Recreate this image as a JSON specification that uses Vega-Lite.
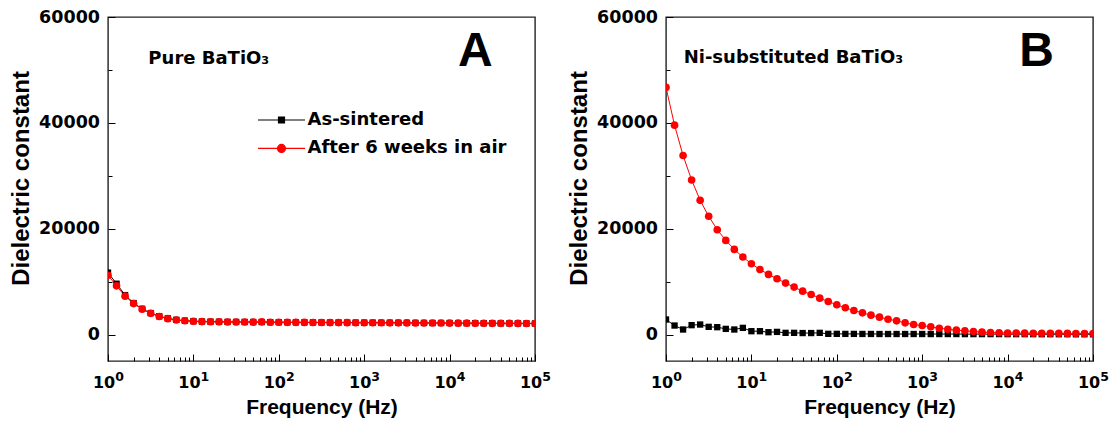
{
  "$schema": "https://vega.github.io/schema/vega-lite/v6.json",
  "padding": {"left": 8, "top": 7, "right": 5, "bottom": 2},
  "background": "white",
  "bounds": "flush",
  "spacing": 131,
  "config": {
    "font": "Liberation Sans",
    "view": {"stroke": "#222222", "strokeWidth": 1.4}
  },
  "datasets": {
    "A": [
      {"f": 1, "As-sintered": 11700, "After 6 weeks in air": 11200},
      {"f": 1.259, "As-sintered": 9600, "After 6 weeks in air": 9200},
      {"f": 1.585, "As-sintered": 7450, "After 6 weeks in air": 7250},
      {"f": 1.995, "As-sintered": 5950, "After 6 weeks in air": 5850},
      {"f": 2.512, "As-sintered": 4850, "After 6 weeks in air": 4800},
      {"f": 3.162, "As-sintered": 4050, "After 6 weeks in air": 4000},
      {"f": 3.981, "As-sintered": 3450, "After 6 weeks in air": 3400},
      {"f": 5.012, "As-sintered": 3050, "After 6 weeks in air": 3000},
      {"f": 6.31, "As-sintered": 2780, "After 6 weeks in air": 2750},
      {"f": 7.943, "As-sintered": 2620, "After 6 weeks in air": 2600},
      {"f": 10, "As-sintered": 2520, "After 6 weeks in air": 2500},
      {"f": 12.59, "As-sintered": 2460, "After 6 weeks in air": 2450},
      {"f": 15.85, "As-sintered": 2430, "After 6 weeks in air": 2420},
      {"f": 19.95, "As-sintered": 2410, "After 6 weeks in air": 2400},
      {"f": 25.12, "As-sintered": 2390, "After 6 weeks in air": 2380},
      {"f": 31.62, "As-sintered": 2380, "After 6 weeks in air": 2370},
      {"f": 39.81, "As-sintered": 2370, "After 6 weeks in air": 2360},
      {"f": 50.12, "As-sintered": 2360, "After 6 weeks in air": 2350},
      {"f": 63.1, "As-sintered": 2360, "After 6 weeks in air": 2400},
      {"f": 79.43, "As-sintered": 2340, "After 6 weeks in air": 2330},
      {"f": 100, "As-sintered": 2330, "After 6 weeks in air": 2320},
      {"f": 125.9, "As-sintered": 2310, "After 6 weeks in air": 2300},
      {"f": 158.5, "As-sintered": 2300, "After 6 weeks in air": 2300},
      {"f": 199.5, "As-sintered": 2300, "After 6 weeks in air": 2290},
      {"f": 251.2, "As-sintered": 2290, "After 6 weeks in air": 2280},
      {"f": 316.2, "As-sintered": 2280, "After 6 weeks in air": 2270},
      {"f": 398.1, "As-sintered": 2270, "After 6 weeks in air": 2260},
      {"f": 501.2, "As-sintered": 2270, "After 6 weeks in air": 2260},
      {"f": 631, "As-sintered": 2260, "After 6 weeks in air": 2250},
      {"f": 794.3, "As-sintered": 2250, "After 6 weeks in air": 2240},
      {"f": 1000, "As-sintered": 2240, "After 6 weeks in air": 2240},
      {"f": 1259, "As-sintered": 2240, "After 6 weeks in air": 2230},
      {"f": 1585, "As-sintered": 2230, "After 6 weeks in air": 2220},
      {"f": 1995, "As-sintered": 2220, "After 6 weeks in air": 2210},
      {"f": 2512, "As-sintered": 2210, "After 6 weeks in air": 2210},
      {"f": 3162, "As-sintered": 2210, "After 6 weeks in air": 2200},
      {"f": 3981, "As-sintered": 2200, "After 6 weeks in air": 2190},
      {"f": 5012, "As-sintered": 2190, "After 6 weeks in air": 2180},
      {"f": 6310, "As-sintered": 2180, "After 6 weeks in air": 2180},
      {"f": 7943, "As-sintered": 2180, "After 6 weeks in air": 2170},
      {"f": 10000, "As-sintered": 2170, "After 6 weeks in air": 2160},
      {"f": 12589, "As-sintered": 2160, "After 6 weeks in air": 2150},
      {"f": 15849, "As-sintered": 2150, "After 6 weeks in air": 2150},
      {"f": 19953, "As-sintered": 2150, "After 6 weeks in air": 2140},
      {"f": 25119, "As-sintered": 2140, "After 6 weeks in air": 2130},
      {"f": 31623, "As-sintered": 2130, "After 6 weeks in air": 2120},
      {"f": 39811, "As-sintered": 2120, "After 6 weeks in air": 2120},
      {"f": 50119, "As-sintered": 2120, "After 6 weeks in air": 2110},
      {"f": 63096, "As-sintered": 2110, "After 6 weeks in air": 2100},
      {"f": 79433, "As-sintered": 2100, "After 6 weeks in air": 2090},
      {"f": 100000, "As-sintered": 2090, "After 6 weeks in air": 2080}
    ],
    "B": [
      {"f": 1, "As-sintered": 2840, "After 6 weeks in air": 46700},
      {"f": 1.259, "As-sintered": 1700, "After 6 weeks in air": 39560},
      {"f": 1.585, "As-sintered": 950, "After 6 weeks in air": 33820},
      {"f": 1.995, "As-sintered": 1770, "After 6 weeks in air": 29210},
      {"f": 2.512, "As-sintered": 1890, "After 6 weeks in air": 25360},
      {"f": 3.162, "As-sintered": 1450, "After 6 weeks in air": 22340},
      {"f": 3.981, "As-sintered": 1390, "After 6 weeks in air": 19810},
      {"f": 5.012, "As-sintered": 1070, "After 6 weeks in air": 17790},
      {"f": 6.31, "As-sintered": 950, "After 6 weeks in air": 16090},
      {"f": 7.943, "As-sintered": 1260, "After 6 weeks in air": 14640},
      {"f": 10, "As-sintered": 630, "After 6 weeks in air": 13370},
      {"f": 12.59, "As-sintered": 630, "After 6 weeks in air": 12300},
      {"f": 15.85, "As-sintered": 440, "After 6 weeks in air": 11360},
      {"f": 19.95, "As-sintered": 500, "After 6 weeks in air": 10530},
      {"f": 25.12, "As-sintered": 320, "After 6 weeks in air": 9720},
      {"f": 31.62, "As-sintered": 320, "After 6 weeks in air": 8960},
      {"f": 39.81, "As-sintered": 280, "After 6 weeks in air": 8200},
      {"f": 50.12, "As-sintered": 280, "After 6 weeks in air": 7570},
      {"f": 63.1, "As-sintered": 320, "After 6 weeks in air": 6880},
      {"f": 79.43, "As-sintered": 130, "After 6 weeks in air": 6250},
      {"f": 100, "As-sintered": 130, "After 6 weeks in air": 5620},
      {"f": 125.9, "As-sintered": 120, "After 6 weeks in air": 5050},
      {"f": 158.5, "As-sintered": 120, "After 6 weeks in air": 4540},
      {"f": 199.5, "As-sintered": 110, "After 6 weeks in air": 4100},
      {"f": 251.2, "As-sintered": 110, "After 6 weeks in air": 3660},
      {"f": 316.2, "As-sintered": 100, "After 6 weeks in air": 3280},
      {"f": 398.1, "As-sintered": 100, "After 6 weeks in air": 2900},
      {"f": 501.2, "As-sintered": 100, "After 6 weeks in air": 2590},
      {"f": 631, "As-sintered": 100, "After 6 weeks in air": 2210},
      {"f": 794.3, "As-sintered": 100, "After 6 weeks in air": 1890},
      {"f": 1000, "As-sintered": 100, "After 6 weeks in air": 1700},
      {"f": 1259, "As-sintered": 90, "After 6 weeks in air": 1450},
      {"f": 1585, "As-sintered": 90, "After 6 weeks in air": 1200},
      {"f": 1995, "As-sintered": 90, "After 6 weeks in air": 1000},
      {"f": 2512, "As-sintered": 90, "After 6 weeks in air": 830},
      {"f": 3162, "As-sintered": 80, "After 6 weeks in air": 700},
      {"f": 3981, "As-sintered": 80, "After 6 weeks in air": 570},
      {"f": 5012, "As-sintered": 80, "After 6 weeks in air": 450},
      {"f": 6310, "As-sintered": 80, "After 6 weeks in air": 380},
      {"f": 7943, "As-sintered": 80, "After 6 weeks in air": 330},
      {"f": 10000, "As-sintered": 70, "After 6 weeks in air": 300},
      {"f": 12589, "As-sintered": 70, "After 6 weeks in air": 280},
      {"f": 15849, "As-sintered": 70, "After 6 weeks in air": 260},
      {"f": 19953, "As-sintered": 70, "After 6 weeks in air": 250},
      {"f": 25119, "As-sintered": 60, "After 6 weeks in air": 240},
      {"f": 31623, "As-sintered": 60, "After 6 weeks in air": 230},
      {"f": 39811, "As-sintered": 60, "After 6 weeks in air": 220},
      {"f": 50119, "As-sintered": 60, "After 6 weeks in air": 210},
      {"f": 63096, "As-sintered": 50, "After 6 weeks in air": 200},
      {"f": 79433, "As-sintered": 50, "After 6 weeks in air": 190},
      {"f": 100000, "As-sintered": 50, "After 6 weeks in air": 180}
    ]
  },
  "hconcat": [
    {
      "width": 427, "height": 344,
      "data": {"name": "A"},
      "transform": [{"fold": ["As-sintered", "After 6 weeks in air"], "as": ["series", "value"]}],
      "layer": [
        {
          "mark": {"type": "line", "strokeWidth": 1, "clip": true},
          "encoding": {
            "x": {"field": "f", "type": "quantitative", "scale": {"type": "log", "domain": [1, 100000]},
              "axis": {"orient": "bottom", "values": [1, 10, 100, 1000, 10000, 100000], "labelExpr": "'10'", "domain": false, "grid": false, "tickSize": -7, "tickColor": "#000", "labelPadding": 33, "labelBaseline": "alphabetic", "labelAlign": "center", "labelOffset": -4.5, "labelFont": "DejaVu Sans", "labelFontSize": 16, "labelFontWeight": "bold", "labelColor": "#000", "labelFlush": false, "labelOverlap": false, "title": "Frequency (Hz)", "titleFontSize": 21, "titleFontWeight": "bold", "titleColor": "#000", "titleY": 52, "titleBaseline": "alphabetic"}},
            "y": {"field": "value", "type": "quantitative", "scale": {"domain": [-5000, 60000], "nice": false, "zero": false},
              "axis": {"orient": "left", "values": [0, 20000, 40000, 60000], "format": "d", "domain": false, "grid": false, "tickSize": -7, "tickColor": "#000", "labelPadding": 15.5, "labelFont": "DejaVu Sans", "labelFontSize": 17.5, "labelFontWeight": "bold", "labelColor": "#000", "title": "Dielectric constant", "titleFontSize": 24, "titleFontWeight": "bold", "titleColor": "#000", "titleX": -79.5, "titleY": 161, "titleBaseline": "alphabetic"}},
            "color": {"field": "series", "type": "nominal", "scale": {"domain": ["As-sintered", "After 6 weeks in air"], "range": ["#000000", "#ff0000"]},
              "legend": {"orient": "none", "legendX": 149, "legendY": 92, "title": null, "direction": "vertical", "labelFont": "DejaVu Sans", "labelFontSize": 18, "labelFontWeight": "bold", "labelColor": "#000", "labelLimit": 0, "labelOffset": 28.5, "symbolSize": 400, "rowPadding": 8.4,
                "encode": {"symbols": {"update": {
                  "shape": {"signal": "datum.value === 'As-sintered' ? 'M-1,0H3.7M1.05,-0.3H1.65V0.3H1.05Z' : 'M-1,0H3.7M0.95,0A0.4,0.4 0 1,0 1.75,0A0.4,0.4 0 1,0 0.95,0'"},
                  "stroke": {"signal": "datum.value === 'As-sintered' ? '#000000' : '#ff0000'"},
                  "fill": {"signal": "datum.value === 'As-sintered' ? '#000000' : '#ff0000'"},
                  "strokeWidth": {"value": 1.2},
                  "opacity": {"value": 1}}}}}}
          }
        },
        {
          "transform": [{"filter": "datum.series === 'As-sintered'"}],
          "mark": {"type": "point", "shape": "square", "size": 40, "filled": true, "opacity": 1, "color": "#000000", "clip": true},
          "encoding": {
            "x": {"field": "f", "type": "quantitative", "scale": {"type": "log", "domain": [1, 100000]},
              "axis": {"orient": "bottom", "values": [2,3,4,5,6,7,8,9,20,30,40,50,60,70,80,90,200,300,400,500,600,700,800,900,2000,3000,4000,5000,6000,7000,8000,9000,20000,30000,40000,50000,60000,70000,80000,90000], "labels": false, "domain": false, "grid": false, "tickSize": -4, "tickColor": "#000", "title": null}},
            "y": {"field": "value", "type": "quantitative", "scale": {"domain": [-5000, 60000], "nice": false, "zero": false},
              "axis": {"orient": "left", "values": [10000, 30000, 50000], "labels": false, "domain": false, "grid": false, "tickSize": -4, "tickColor": "#000", "title": null}}
          }
        },
        {
          "transform": [{"filter": "datum.series === 'After 6 weeks in air'"}],
          "mark": {"type": "point", "shape": "circle", "size": 58, "filled": true, "opacity": 1, "color": "#ff0000", "clip": true},
          "encoding": {
            "x": {"field": "f", "type": "quantitative", "scale": {"type": "log", "domain": [1, 100000]},
              "axis": {"orient": "bottom", "values": [1, 10, 100, 1000, 10000, 100000], "labelExpr": "'' + round(log(datum.value) / LN10)", "ticks": false, "domain": false, "grid": false, "labelPadding": 19.5, "labelBaseline": "alphabetic", "labelAlign": "center", "labelOffset": 11, "labelFont": "DejaVu Sans", "labelFontSize": 12.5, "labelFontWeight": "bold", "labelColor": "#000", "labelFlush": false, "labelOverlap": false, "title": null}},
            "y": {"field": "value", "type": "quantitative", "scale": {"domain": [-5000, 60000], "nice": false, "zero": false}, "axis": null}
          }
        },
        {
          "data": {"values": [{"label": "Pure BaTiO₃"}]},
          "mark": {"type": "text", "align": "left", "baseline": "alphabetic", "font": "DejaVu Sans", "fontSize": 18, "fontWeight": "bold", "color": "#000"},
          "encoding": {
            "x": {"datum": 2.97, "type": "quantitative", "scale": {"type": "log", "domain": [1, 100000]}, "axis": null},
            "y": {"datum": 51100, "type": "quantitative", "axis": null},
            "text": {"field": "label"}
          }
        },
        {
          "data": {"values": [{"label": "A"}]},
          "mark": {"type": "text", "align": "center", "baseline": "alphabetic", "fontSize": 48, "fontWeight": "bold", "color": "#000"},
          "encoding": {
            "x": {"datum": 20000, "type": "quantitative", "scale": {"type": "log", "domain": [1, 100000]}, "axis": null},
            "y": {"datum": 50700, "type": "quantitative", "axis": null},
            "text": {"field": "label"}
          }
        }
      ],
      "resolve": {"axis": {"x": "independent", "y": "independent"}}
    },
    {
      "width": 427, "height": 344,
      "data": {"name": "B"},
      "transform": [{"fold": ["As-sintered", "After 6 weeks in air"], "as": ["series", "value"]}],
      "layer": [
        {
          "mark": {"type": "line", "strokeWidth": 1, "clip": true},
          "encoding": {
            "x": {"field": "f", "type": "quantitative", "scale": {"type": "log", "domain": [1, 100000]},
              "axis": {"orient": "bottom", "values": [1, 10, 100, 1000, 10000, 100000], "labelExpr": "'10'", "domain": false, "grid": false, "tickSize": -7, "tickColor": "#000", "labelPadding": 33, "labelBaseline": "alphabetic", "labelAlign": "center", "labelOffset": -4.5, "labelFont": "DejaVu Sans", "labelFontSize": 16, "labelFontWeight": "bold", "labelColor": "#000", "labelFlush": false, "labelOverlap": false, "title": "Frequency (Hz)", "titleFontSize": 21, "titleFontWeight": "bold", "titleColor": "#000", "titleY": 52, "titleBaseline": "alphabetic"}},
            "y": {"field": "value", "type": "quantitative", "scale": {"domain": [-5000, 60000], "nice": false, "zero": false},
              "axis": {"orient": "left", "values": [0, 20000, 40000, 60000], "format": "d", "domain": false, "grid": false, "tickSize": -7, "tickColor": "#000", "labelPadding": 15.5, "labelFont": "DejaVu Sans", "labelFontSize": 17.5, "labelFontWeight": "bold", "labelColor": "#000", "title": "Dielectric constant", "titleFontSize": 24, "titleFontWeight": "bold", "titleColor": "#000", "titleX": -79.5, "titleY": 161, "titleBaseline": "alphabetic"}},
            "color": {"field": "series", "type": "nominal", "scale": {"domain": ["As-sintered", "After 6 weeks in air"], "range": ["#000000", "#ff0000"]},
              "legend": {"orient": "none", "legendX": 150, "legendY": 92, "title": null, "direction": "vertical", "labelFont": "DejaVu Sans", "labelFontSize": 18, "labelFontWeight": "bold", "labelColor": "#000", "labelLimit": 0, "labelOffset": 28.5, "symbolSize": 400, "rowPadding": 8.4,
                "encode": {"symbols": {"update": {
                  "shape": {"signal": "datum.value === 'As-sintered' ? 'M-1,0H3.7M1.05,-0.3H1.65V0.3H1.05Z' : 'M-1,0H3.7M0.95,0A0.4,0.4 0 1,0 1.75,0A0.4,0.4 0 1,0 0.95,0'"},
                  "stroke": {"signal": "datum.value === 'As-sintered' ? '#000000' : '#ff0000'"},
                  "fill": {"signal": "datum.value === 'As-sintered' ? '#000000' : '#ff0000'"},
                  "strokeWidth": {"value": 1.2},
                  "opacity": {"value": 1}}}}}}
          }
        },
        {
          "transform": [{"filter": "datum.series === 'As-sintered'"}],
          "mark": {"type": "point", "shape": "square", "size": 40, "filled": true, "opacity": 1, "color": "#000000", "clip": true},
          "encoding": {
            "x": {"field": "f", "type": "quantitative", "scale": {"type": "log", "domain": [1, 100000]},
              "axis": {"orient": "bottom", "values": [2,3,4,5,6,7,8,9,20,30,40,50,60,70,80,90,200,300,400,500,600,700,800,900,2000,3000,4000,5000,6000,7000,8000,9000,20000,30000,40000,50000,60000,70000,80000,90000], "labels": false, "domain": false, "grid": false, "tickSize": -4, "tickColor": "#000", "title": null}},
            "y": {"field": "value", "type": "quantitative", "scale": {"domain": [-5000, 60000], "nice": false, "zero": false},
              "axis": {"orient": "left", "values": [10000, 30000, 50000], "labels": false, "domain": false, "grid": false, "tickSize": -4, "tickColor": "#000", "title": null}}
          }
        },
        {
          "transform": [{"filter": "datum.series === 'After 6 weeks in air'"}],
          "mark": {"type": "point", "shape": "circle", "size": 58, "filled": true, "opacity": 1, "color": "#ff0000", "clip": true},
          "encoding": {
            "x": {"field": "f", "type": "quantitative", "scale": {"type": "log", "domain": [1, 100000]},
              "axis": {"orient": "bottom", "values": [1, 10, 100, 1000, 10000, 100000], "labelExpr": "'' + round(log(datum.value) / LN10)", "ticks": false, "domain": false, "grid": false, "labelPadding": 19.5, "labelBaseline": "alphabetic", "labelAlign": "center", "labelOffset": 11, "labelFont": "DejaVu Sans", "labelFontSize": 12.5, "labelFontWeight": "bold", "labelColor": "#000", "labelFlush": false, "labelOverlap": false, "title": null}},
            "y": {"field": "value", "type": "quantitative", "scale": {"domain": [-5000, 60000], "nice": false, "zero": false}, "axis": null}
          }
        },
        {
          "data": {"values": [{"label": "Ni-substituted BaTiO₃"}]},
          "mark": {"type": "text", "align": "left", "baseline": "alphabetic", "font": "DejaVu Sans", "fontSize": 18, "fontWeight": "bold", "color": "#000"},
          "encoding": {
            "x": {"datum": 1.61, "type": "quantitative", "scale": {"type": "log", "domain": [1, 100000]}, "axis": null},
            "y": {"datum": 51300, "type": "quantitative", "axis": null},
            "text": {"field": "label"}
          }
        },
        {
          "data": {"values": [{"label": "B"}]},
          "mark": {"type": "text", "align": "center", "baseline": "alphabetic", "fontSize": 48, "fontWeight": "bold", "color": "#000"},
          "encoding": {
            "x": {"datum": 21900, "type": "quantitative", "scale": {"type": "log", "domain": [1, 100000]}, "axis": null},
            "y": {"datum": 50700, "type": "quantitative", "axis": null},
            "text": {"field": "label"}
          }
        }
      ],
      "resolve": {"axis": {"x": "independent", "y": "independent"}}
    }
  ]
}
